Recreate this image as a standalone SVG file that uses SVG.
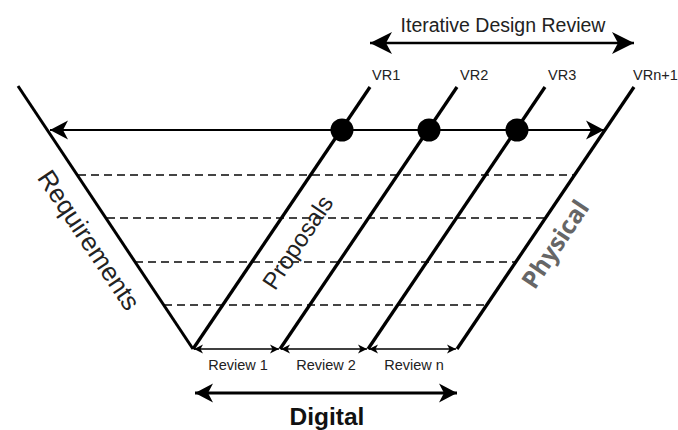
<svg xmlns="http://www.w3.org/2000/svg" width="678" height="430" viewBox="0 0 678 430">
  <style>
    .solid { stroke: #000; fill: none; stroke-linecap: butt; }
    .dash { stroke: #444; stroke-width: 2; stroke-dasharray: 8 5; fill: none; }
    .lbl { font-family: "Liberation Sans", Arial, sans-serif; fill: #222; }
    .dot { fill: #000; }
  </style>
  <defs>
    <marker id="bigArrow" markerUnits="userSpaceOnUse" viewBox="-18 -10 18 20" refX="0" refY="0" markerWidth="18" markerHeight="20" orient="auto-start-reverse">
      <path d="M0,0 L-18,-9.5 L-13,0 L-18,9.5 Z" fill="#000"/>
    </marker>
    <marker id="topArrow" markerUnits="userSpaceOnUse" viewBox="-22 -11 22 22" refX="0" refY="0" markerWidth="22" markerHeight="22" orient="auto-start-reverse">
      <path d="M0,0 L-22,-11 L-16,0 L-22,11 Z" fill="#000"/>
    </marker>
    <marker id="smallArrow" markerUnits="userSpaceOnUse" viewBox="-9 -5 9 10" refX="0" refY="0" markerWidth="9" markerHeight="10" orient="auto-start-reverse">
      <path d="M0,0 L-9,-4.5 L-6.5,0 L-9,4.5 Z" fill="#000"/>
    </marker>
  </defs>

  <rect width="678" height="430" fill="#fff"/>

  <!-- connectors: diagonal rails, levels and arrows -->
  <g id="connectors">
    <!-- dashed levels between the requirements rail and the physical rail -->
    <line class="dash" x1="78" y1="175" x2="574" y2="175"/>
    <line class="dash" x1="107" y1="218" x2="545" y2="218"/>
    <line class="dash" x1="135" y1="262" x2="516" y2="262"/>
    <line class="dash" x1="164" y1="305" x2="487" y2="305"/>

    <!-- requirements rail -->
    <line class="solid" stroke-width="3" x1="18" y1="86" x2="193" y2="349"/>

    <!-- review rails VR1..VRn+1 -->
    <line class="solid" stroke-width="3.3" x1="193" y1="349" x2="370" y2="87"/>
    <line class="solid" stroke-width="3.3" x1="280" y1="349" x2="457" y2="87"/>
    <line class="solid" stroke-width="3.3" x1="368" y1="349" x2="545" y2="87"/>
    <line class="solid" stroke-width="3.3" x1="457" y1="349" x2="634" y2="87"/>

    <!-- main horizontal arrow -->
    <line class="solid" stroke-width="2" x1="50" y1="130" x2="604" y2="130" marker-start="url(#bigArrow)" marker-end="url(#bigArrow)"/>

    <!-- iterative design review arrow -->
    <line class="solid" stroke-width="2.5" x1="370" y1="43" x2="634" y2="43" marker-start="url(#topArrow)" marker-end="url(#topArrow)"/>

    <!-- review spans -->
    <line class="solid" stroke-width="1.6" x1="194" y1="349" x2="279" y2="349" marker-start="url(#smallArrow)" marker-end="url(#smallArrow)"/>
    <line class="solid" stroke-width="1.6" x1="281" y1="349" x2="367" y2="349" marker-start="url(#smallArrow)" marker-end="url(#smallArrow)"/>
    <line class="solid" stroke-width="1.6" x1="369" y1="349" x2="456" y2="349" marker-start="url(#smallArrow)" marker-end="url(#smallArrow)"/>

    <!-- digital arrow -->
    <line class="solid" stroke-width="3" x1="195" y1="393" x2="457" y2="393" marker-start="url(#bigArrow)" marker-end="url(#bigArrow)"/>
  </g>

  <!-- review points on the main axis -->
  <g id="vr1-point"><circle class="dot" cx="342" cy="130" r="11.5"/></g>
  <g id="vr2-point"><circle class="dot" cx="429" cy="130" r="11.5"/></g>
  <g id="vr3-point"><circle class="dot" cx="517" cy="130" r="11.5"/></g>

  <g id="iterative-label">
    <text class="lbl" x="503" y="32" font-size="19.5" text-anchor="middle">Iterative Design Review</text>
  </g>

  <g id="vr-labels">
    <text class="lbl" x="372" y="80" font-size="14.5">VR1</text>
    <text class="lbl" x="460" y="80" font-size="14.5">VR2</text>
    <text class="lbl" x="548" y="80" font-size="14.5">VR3</text>
    <text class="lbl" x="633" y="80" font-size="14.5">VRn+1</text>
  </g>

  <g id="requirements">
    <text class="lbl" font-size="26" text-anchor="middle" transform="translate(89,240) rotate(56.3)" y="9">Requirements</text>
  </g>

  <g id="proposals">
    <text class="lbl" font-size="24" text-anchor="middle" transform="translate(297,242) rotate(-56.3)" y="9">Proposals</text>
  </g>

  <g id="physical">
    <text font-family="'Open Sans', 'Liberation Sans', sans-serif" font-weight="bold" fill="#666" font-size="24.5" text-anchor="middle" transform="translate(555,244) rotate(-56.3)" y="9">Physical</text>
  </g>

  <g id="reviews">
    <text class="lbl" x="238" y="370" font-size="14.5" text-anchor="middle">Review 1</text>
    <text class="lbl" x="326" y="370" font-size="14.5" text-anchor="middle">Review 2</text>
    <text class="lbl" x="414" y="370" font-size="14.5" text-anchor="middle">Review n</text>
  </g>

  <g id="digital">
    <text x="327" y="425" font-family="'Liberation Sans', Arial, sans-serif" font-weight="bold" fill="#111" font-size="24.5" text-anchor="middle">Digital</text>
  </g>
</svg>
